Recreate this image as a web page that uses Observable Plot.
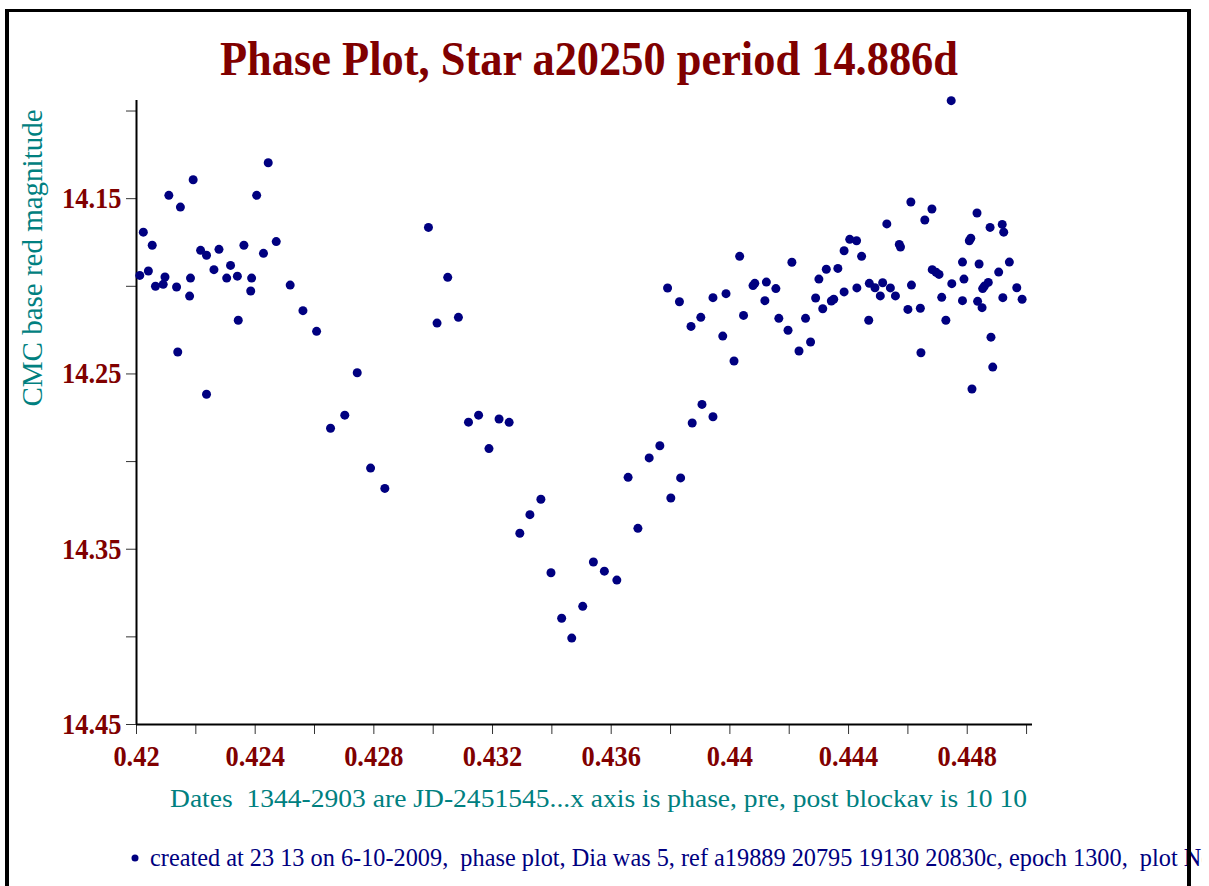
<!DOCTYPE html>
<html><head><meta charset="utf-8">
<script src="https://cdn.jsdelivr.net/npm/d3@7"></script>
<script src="https://cdn.jsdelivr.net/npm/@observablehq/plot@0.6"></script>
<style>
html,body{margin:0;padding:0;background:#fff;width:1209px;height:886px;overflow:hidden;}
#chart{position:absolute;left:0;top:0;}
#overlay{position:absolute;left:0;top:0;overflow:hidden;}
#frame{position:absolute;left:5px;top:9px;width:1186px;height:900px;box-sizing:border-box;border-left:4px solid #000;border-top:3px solid #000;border-right:4px solid #000;pointer-events:none;}
</style>
</head><body>
<div id="chart"></div>
<svg id="overlay" width="1202" height="886"></svg>
<div id="frame"></div>
<script>
const SERIF = '"Liberation Serif","Times New Roman",serif';
const titleText = "Phase Plot, Star a20250 period 14.886d";
const yLabelText = "CMC base red magnitude";
const caption1Text = "Dates  1344-2903 are JD-2451545...x axis is phase, pre, post blockav is 10 10";
const caption2Text = "created at 23 13 on 6-10-2009,  phase plot, Dia was 5, ref a19889 20795 19130 20830c, epoch 1300,  plot No";

const xDomain = [0.42, 0.4502];
const yDomain = [14.094, 14.45];
const xTicks = [0.42,0.422,0.424,0.426,0.428,0.43,0.432,0.434,0.436,0.438,0.44,0.442,0.444,0.446,0.448,0.45];
const xLabelTicks = [0.42,0.424,0.428,0.432,0.436,0.44,0.444,0.448];
const xTickLabels = ["0.42","0.424","0.428","0.432","0.436","0.44","0.444","0.448"];
const yTicks = [14.10,14.15,14.20,14.25,14.30,14.35,14.40,14.45];
const yLabelTicks = [14.15,14.25,14.35,14.45];
const yTickLabels = ["14.15","14.25","14.35","14.45"];

const phase = [
0.42011,0.42023,0.42040,0.42053,0.42064,0.42090,0.42096,0.42109,0.42135,0.42148,
0.42139,0.42179,0.42182,0.42191,0.42216,0.42236,0.42236,0.42261,0.42278,0.42304,
0.42317,0.42340,0.42343,0.42362,0.42385,0.42388,0.42405,0.42428,0.42444,0.42471,
0.42518,0.42561,0.42607,0.42744,0.42702,0.42654,0.42789,0.42837,
0.42984,0.43049,0.43013,0.43085,0.43119,0.43153,0.43222,0.43256,0.43188,
0.43363,0.43326,0.43292,0.43397,0.43433,0.43467,0.43504,0.43540,0.43577,0.43619,
0.43657,0.43690,0.43728,0.43764,0.43801,0.43834,0.43790,0.43830,0.43869,0.43873,
0.43902,0.43906,0.43943,0.43943,0.43987,0.43976,0.44014,0.44033,0.44046,0.44078,
0.44084,0.44123,0.44118,0.44155,0.44165,0.44196,0.44209,0.44233,0.44255,0.44272,
0.44289,0.44300,0.44313,0.44325,0.44342,0.44350,0.44364,0.44385,0.44385,0.44404,
0.44427,0.44428,0.44444,0.44468,0.44470,0.44489,0.44507,0.44515,0.44529,0.44541,
0.44558,0.44571,0.44575,0.44600,0.44610,0.44612,0.44642,0.44644,0.44657,0.44681,
0.44682,0.44695,0.44705,0.44714,0.44728,0.44746,0.44748,0.44784,0.44789,0.44784,
0.44807,0.44812,0.44816,0.44833,0.44835,0.44840,0.44850,0.44852,0.44858,0.44871,
0.44877,0.44880,0.44886,0.44906,0.44918,0.44923,0.44920,0.44942,0.44967,0.44985];

const mag = [
14.1938,14.1691,14.1913,14.1766,14.2000,14.1989,14.1947,14.1481,14.2004,14.1548,
14.2375,14.2056,14.1953,14.1392,14.1795,14.1823,14.2616,14.1905,14.1789,14.1953,
14.1881,14.1942,14.2194,14.1766,14.2027,14.1953,14.1481,14.1812,14.1295,14.1745,
14.1993,14.2139,14.2257,14.2493,14.2735,14.2810,14.3037,14.3153,
14.1664,14.1949,14.2210,14.2177,14.2775,14.2735,14.2757,14.2776,14.2926,
14.3215,14.3303,14.3409,14.3634,14.3894,14.4007,14.3826,14.3573,14.3625,14.3676,
14.3090,14.3381,14.2979,14.2910,14.3208,14.3093,14.2010,14.2088,14.2229,14.2780,
14.2177,14.2674,14.2744,14.2065,14.2042,14.2284,14.2426,14.1829,14.2166,14.1996,
14.1983,14.1976,14.2082,14.2013,14.2183,14.2251,14.1863,14.2369,14.2183,14.2318,
14.2067,14.1959,14.2128,14.1903,14.2084,14.2074,14.1898,14.1797,14.2032,14.1732,
14.1740,14.2009,14.1829,14.2194,14.1983,14.2008,14.2055,14.1980,14.1644,14.2009,
14.2055,14.1761,14.1776,14.2132,14.1519,14.1993,14.2125,14.2379,14.1622,14.1559,
14.1905,14.1920,14.1932,14.2063,14.2194,14.0941,14.1985,14.1862,14.1959,14.2082,
14.1740,14.1726,14.2586,14.1582,14.2086,14.1873,14.2122,14.2013,14.1999,14.1978,
14.1664,14.2290,14.2461,14.1919,14.1647,14.1691,14.2065,14.1862,14.2008,14.2074];

const data = phase.map((p, i) => ({phase: p, mag: mag[i]}));

const plot = Plot.plot({
  width: 1209, height: 760,
  marginLeft: 136, marginRight: 177, marginTop: 100, marginBottom: 36,
  style: {fontFamily: SERIF, background: "transparent", overflow: "visible"},
  x: {domain: xDomain},
  y: {domain: yDomain, reverse: true},
  marks: [
    Plot.axisX(xTicks, {anchor: "bottom", tickSize: 10, tickFormat: () => "", stroke: "#333", label: null}),
    Plot.axisX(xLabelTicks, {anchor: "bottom", tickSize: 0, tickPadding: 21,
      tickFormat: (d, i) => xTickLabels[i], fill: "#800000", fontSize: 29, fontWeight: "bold", label: null}),
    Plot.axisY(yTicks, {anchor: "left", tickSize: 10, tickFormat: () => "", stroke: "#333", label: null}),
    Plot.axisY(yLabelTicks, {anchor: "left", tickSize: 0, tickPadding: 15,
      tickFormat: (d, i) => yTickLabels[i], fill: "#800000", fontSize: 29, fontWeight: "bold", label: null}),
    Plot.ruleX([xDomain[0]], {stroke: "#000", strokeWidth: 2}),
    Plot.ruleY([yDomain[1]], {stroke: "#000", strokeWidth: 2}),
    Plot.dot(data, {x: "phase", y: "mag", r: 4.5, fill: "#000080", stroke: "none"})
  ]
});
document.getElementById("chart").appendChild(plot);

// condense bold tick labels horizontally, like the reference's rendering
d3.select(plot).selectAll("text").each(function() {
  const s = this.textContent;
  if (!s) return;
  const len = this.getComputedTextLength();
  if (len > 0) {
    this.setAttribute("textLength", (len * 0.91).toFixed(1));
    this.setAttribute("lengthAdjust", "spacingAndGlyphs");
  }
});

const ns = "http://www.w3.org/2000/svg";
const ov = document.getElementById("overlay");
function addText(str, attrs) {
  const t = document.createElementNS(ns, "text");
  for (const k in attrs) t.setAttribute(k, attrs[k]);
  t.setAttribute("font-family", SERIF);
  t.style.whiteSpace = "pre";
  t.textContent = str;
  ov.appendChild(t);
  return t;
}
addText(titleText, {x: 589, y: 75, "text-anchor": "middle", "font-size": 48, "font-weight": "bold",
  fill: "#800000", textLength: 738, lengthAdjust: "spacingAndGlyphs"});
addText(yLabelText, {transform: "translate(42,258) rotate(-90)", "text-anchor": "middle", "font-size": 29, fill: "#008080"});
addText(caption1Text, {x: 170, y: 807, "font-size": 25, fill: "#008080", textLength: 857, lengthAdjust: "spacingAndGlyphs"});
const c = document.createElementNS(ns, "circle");
c.setAttribute("cx", 135); c.setAttribute("cy", 858); c.setAttribute("r", 3.5); c.setAttribute("fill", "#000080");
ov.appendChild(c);
addText(caption2Text, {x: 150, y: 866, "font-size": 24.3, fill: "#000080"});
</script>
</body></html>
